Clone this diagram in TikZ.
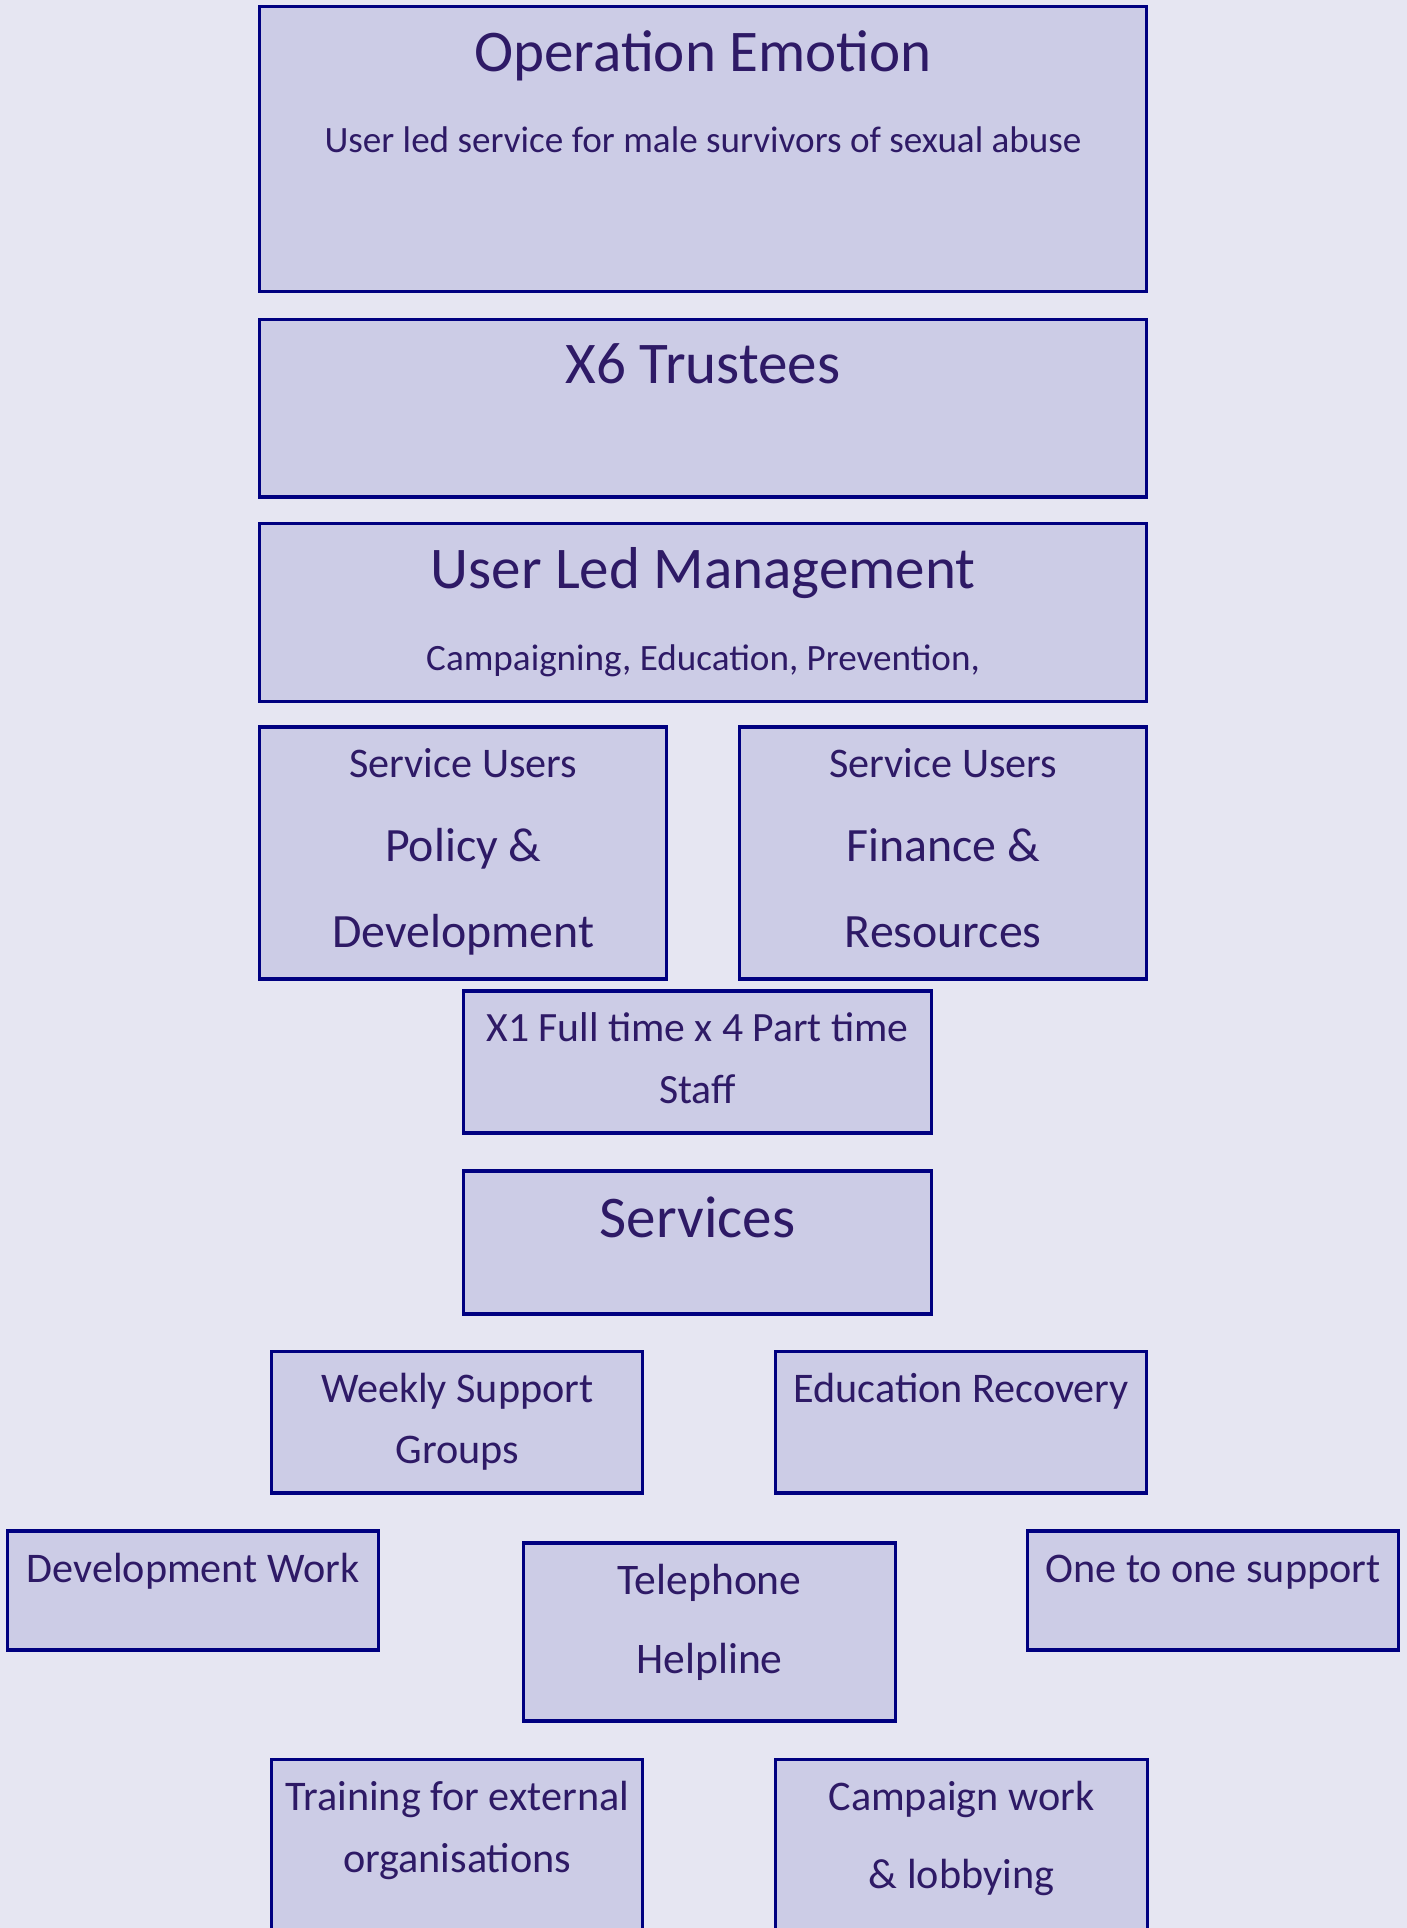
\documentclass[tikz,border=0pt]{standalone}
\usepackage{fontspec}
\setmainfont{Carlito}

\definecolor{pagebg}{HTML}{E6E6F2}
\definecolor{boxfill}{HTML}{CCCCE6}
\definecolor{boxline}{HTML}{000080}
\definecolor{boxtext}{HTML}{2E1A66}

\begin{document}
\begin{tikzpicture}[x=0.01cm, y=-0.01cm]
    \tikzset{box/.style={draw=boxline, fill=boxfill, line width=0.9pt, rectangle, inner sep=0pt},
      lbl/.style={anchor=base, inner sep=0pt, text=boxtext},
      headtext/.style={lbl, font=\fontsize{16.8}{20}\selectfont},
      subtext/.style={lbl, font=\fontsize{10.56}{12}\selectfont},
      boardtext/.style={lbl, font=\fontsize{13.6}{16}\selectfont},
      bodytext/.style={lbl, font=\fontsize{12}{14}\selectfont}};

    \clip (0, 0) rectangle (1407, 1928);
    \fill[pagebg] (0, 0) rectangle (1407, 1928);

    % Top
    \node[box, minimum width=8.87cm, minimum height=2.845cm] (oe) at (703, 149.25) {};
    \node[headtext] (oe-t) at (703, 72) {Operation Emotion};
    \node[subtext] (oe-s) at (703, 153) {User led service for male survivors of sexual abuse};

    \node[box, minimum width=8.87cm, minimum height=1.775cm] (trustees) at (703, 408.25) {};
    \node[headtext] (trustees-t) at (703, 384) {X6 Trustees};

    \node[box, minimum width=8.87cm, minimum height=1.78cm] (ulm) at (703, 612.5) {};
    \node[headtext] (ulm-t) at (703, 588) {User Led Management};
    \node[subtext] (ulm-s) at (703, 670) {Campaigning, Education, Prevention,};

    % Service users
    \foreach \n/\x/\a/\b in {supol/463.25/Policy \&/Development, sufin/943.25/Finance \&/Resources} {
      \node[box, minimum width=4.065cm, minimum height=2.52cm] (\n) at (\x, 853) {};
      \node[bodytext] (\n-t) at (\x, 777) {Service Users};
      \node[boardtext] (\n-a) at (\x, 861) {\a};
      \node[boardtext] (\n-b) at (\x, 947) {\b};
    }

    % Staff
    \node[box, minimum width=4.67cm, minimum height=1.42cm] (staff) at (697.5, 1062) {};
    \node[bodytext, font=\fontsize{11.85}{14}\selectfont] (staff-a) at (697.5, 1041) {X1 Full time x 4 Part time};
    \node[bodytext, font=\fontsize{11.85}{14}\selectfont] (staff-b) at (697.5, 1103) {Staff};

    \node[box, minimum width=4.67cm, minimum height=1.43cm] (services) at (697.5, 1242.5) {};
    \node[headtext] (services-t) at (697.5, 1237) {Services};

    % Services
    \node[box, minimum width=3.705cm, minimum height=1.415cm] (weekly) at (457.25, 1422.25) {};
    \node[bodytext] (weekly-a) at (457.25, 1402) {Weekly Support};
    \node[bodytext] (weekly-b) at (457.25, 1463) {Groups};

    \node[box, minimum width=3.705cm, minimum height=1.415cm] (edu) at (961.25, 1422.25) {};
    \node[bodytext] (edu-t) at (961.25, 1402) {Education Recovery};

    \node[box, minimum width=3.71cm, minimum height=1.19cm] (devwork) at (193, 1590.5) {};
    \node[bodytext] (devwork-t) at (193, 1582) {Development Work};

    \node[box, minimum width=3.71cm, minimum height=1.78cm] (phone) at (709.5, 1632) {};
    \node[bodytext, font=\fontsize{12.4}{14}\selectfont] (phone-a) at (709.5, 1594) {Telephone};
    \node[bodytext, font=\fontsize{12.4}{14}\selectfont] (phone-b) at (709.5, 1673) {Helpline};

    \node[box, minimum width=3.71cm, minimum height=1.19cm] (onetoone) at (1213, 1590.5) {};
    \node[bodytext] (onetoone-t) at (1213, 1582) {One to one support};

    \node[box, minimum width=3.705cm, minimum height=2.005cm] (training) at (457.25, 1859.75) {};
    \node[bodytext] (training-a) at (457.25, 1810) {Training for external};
    \node[bodytext] (training-b) at (457.25, 1872) {organisations};

    \node[box, minimum width=3.71cm, minimum height=2.005cm] (campaign) at (961.5, 1859.75) {};
    \node[bodytext] (campaign-a) at (961.5, 1810) {Campaign work};
    \node[bodytext] (campaign-b) at (961.5, 1888) {\& lobbying};
  \end{tikzpicture}
\end{document}
